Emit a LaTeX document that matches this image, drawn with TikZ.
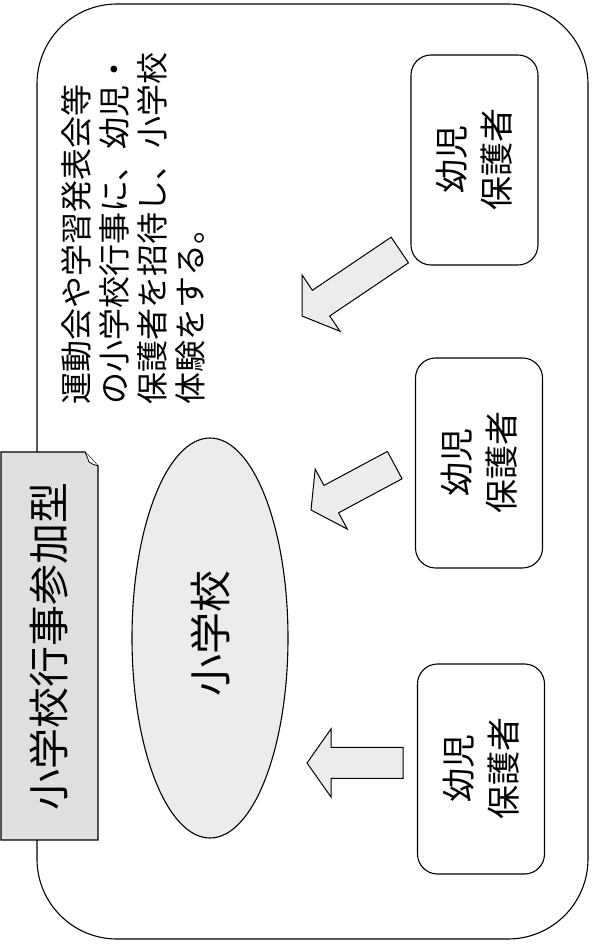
\documentclass[tikz,border=0pt]{standalone}
\usepackage{fontspec}
\setmainfont{Noto Sans CJK JP}
\usetikzlibrary{shapes.geometric}
\begin{document}
\begin{tikzpicture}[x=1pt,y=1pt,line width=1.1pt,
  frame/.style={draw,rounded corners=80pt,minimum width=551pt,minimum height=935pt,inner sep=0pt},
  titlebox/.style={draw,fill=gray!25},
  school/.style={ellipse,draw,fill=gray!15,minimum width=156pt,minimum height=400pt,inner sep=0pt},
  guardian/.style={draw,rounded corners=20pt,minimum width=127pt,minimum height=210pt,inner sep=0pt},
  glabel/.style={rotate=90,align=center,inner sep=0pt,font=\fontsize{34}{45}\selectfont},
  titletext/.style={rotate=90,inner sep=0pt,font=\fontsize{41}{41}\selectfont},
  bigtext/.style={rotate=90,inner sep=0pt,font=\fontsize{42}{42}\selectfont},
  desctext/.style={rotate=90,anchor=north west,inner sep=0pt,align=left,font=\fontsize{32}{38}\selectfont},
  blockarrow/.style={draw,fill=gray!15,line width=1pt,line join=miter}]
\useasboundingbox (0,0) rectangle (605,946);
% outer frame
\node[frame] (frame) at (312.5,474.5) {};
% title box with folded corner
\draw[titlebox] (1,106) -- (98,106) -- (98,480) -- (85,494) -- (1,494) -- cycle;
\draw[line width=0.8pt,fill=white] (85,494) .. controls (88,487) .. (89,484) .. controls (92,482) .. (98,480);
\node[titletext] (title) at (49,299) {小学校行事参加型};
% school ellipse
\node[school] (school) at (210,308) {};
\node[bigtext] (schoollabel) at (210,312) {小学校};
% guardian boxes
\node[guardian] (g1) at (474.5,786) {};
\node[glabel] (g1label) at (g1) {幼児\\保護者};
\node[guardian] (g2) at (479,483) {};
\node[glabel] (g2label) at (g2) {幼児\\保護者};
\node[guardian] (g3) at (481,177) {};
\node[glabel] (g3label) at (g3) {幼児\\保護者};
% block arrows
\begin{scope}[shift={(302,630)},rotate=34]
\draw[blockarrow] (0,0) -- (23,34) -- (23,15.5) -- (118,15.5) -- (118,-15.5) -- (23,-15.5) -- (23,-34) -- cycle;
\end{scope}
\begin{scope}[shift={(311,436)},rotate=28.2]
\draw[blockarrow] (0,0) -- (23,34) -- (23,15.5) -- (95,15.5) -- (95,-15.5) -- (23,-15.5) -- (23,-34) -- cycle;
\end{scope}
\begin{scope}[shift={(307,183)}]
\draw[blockarrow] (0,0) -- (24,34) -- (24,15.5) -- (96,15.5) -- (96,-15.5) -- (24,-15.5) -- (24,-34) -- cycle;
\end{scope}
% description
\node[desctext] (desc) at (61,541) {運動会や学習発表会等\\の小学校行事に、幼児・\\保護者を招待し、小学校\\体験をする。};
\end{tikzpicture}
\end{document}
